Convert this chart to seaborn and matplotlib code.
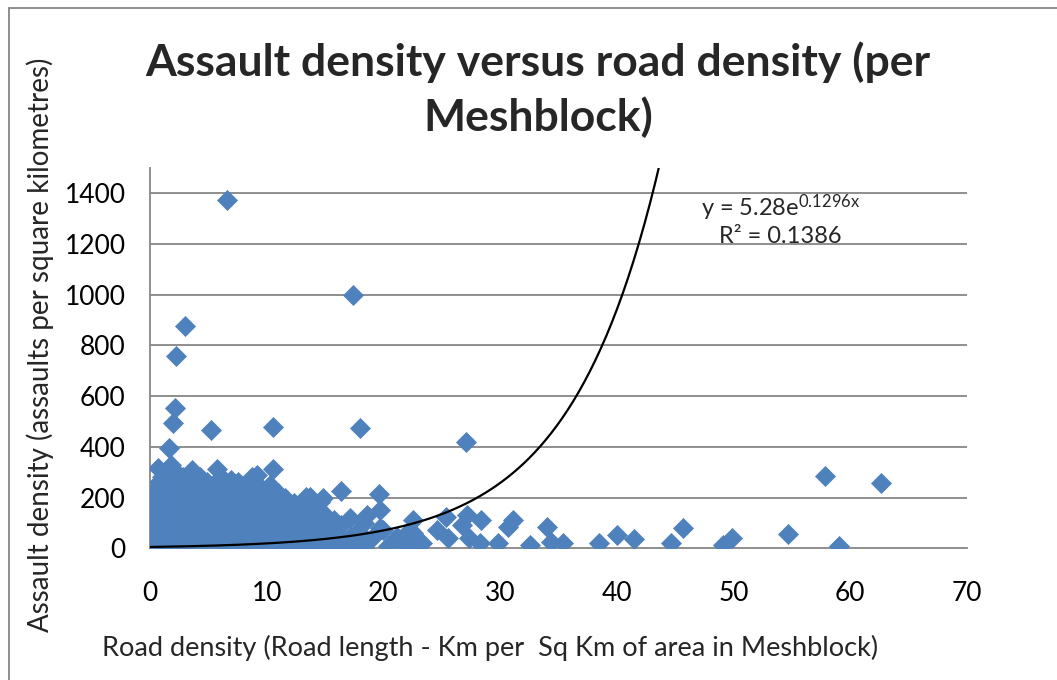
import numpy as np
import pandas as pd
import matplotlib
matplotlib.use("Agg")
import matplotlib.pyplot as plt
from matplotlib.lines import Line2D
import seaborn as sns

# Road density (km of road per sq km) for each meshblock
road_density = [
    0.05, 0.05, 0.05, 0.05, 0.05, 0.05,
    0.2, 0.2, 0.2, 0.2, 0.2,
    0.4, 0.4, 0.4, 0.4, 0.4,
    0.6, 0.6, 0.6, 0.6, 0.7,
    0.8, 0.8, 0.8, 0.8, 0.8,
    1.0, 1.0, 1.0, 1.0, 1.0,
    1.2, 1.2, 1.2, 1.2,
    1.4, 1.4, 1.4, 1.4,
    1.6, 1.6, 1.6, 1.6, 1.6,
    1.8, 1.8, 1.8, 1.8,
    2.0, 2.0, 2.0, 2.0, 2.0, 2.1,
    2.2, 2.2, 2.2, 2.2, 2.2,
    2.4, 2.4, 2.4,
    2.6, 2.6, 2.6,
    2.8, 2.8, 2.8, 2.8,
    3.0, 3.0, 3.0,
    3.2, 3.2, 3.2,
    3.4, 3.4, 3.4,
    3.6, 3.6, 3.6, 3.6,
    3.8, 3.8,
    4.0, 4.0, 4.0, 4.0,
    4.3, 4.3, 4.3, 4.3,
    4.6, 4.6, 4.6,
    4.9, 4.9, 4.9, 4.9,
    5.2, 5.2, 5.2, 5.2,
    5.5, 5.5, 5.5, 5.7,
    5.8, 5.8, 5.8,
    6.1, 6.1, 6.1, 6.1,
    6.4, 6.4,
    6.6, 6.6, 6.6,
    6.9, 6.9, 6.9, 6.9,
    7.2, 7.2,
    7.5, 7.5, 7.5, 7.5,
    7.8, 7.8, 7.8,
    8.1, 8.1, 8.1, 8.1,
    8.4, 8.4, 8.4,
    8.7, 8.7, 8.7,
    9.0, 9.0, 9.0, 9.2,
    9.4, 9.4, 9.4,
    9.7, 9.7,
    10.0, 10.0, 10.0,
    10.3, 10.3, 10.3,
    10.5, 10.5,
    10.7, 10.7, 10.7,
    11.0, 11.0,
    11.3, 11.3, 11.3,
    11.6, 11.6,
    12.0, 12.0,
    12.3, 12.3,
    12.6, 12.6,
    13.0, 13.0,
    13.4, 13.4, 13.4,
    13.7, 13.7,
    14.0, 14.0,
    14.3, 14.3,
    14.6, 14.6, 14.6, 14.8,
    15.0, 15.0, 15.4,
    15.8, 15.8, 16.1,
    16.4, 16.4, 16.4, 16.8,
    17.1, 17.1, 17.4, 17.4, 17.8, 18.0,
    18.3, 18.3, 18.6, 18.6, 19.0,
    19.6, 19.7, 19.7, 20.0, 20.4,
    21.2, 21.7, 22.3, 22.5, 22.5, 23.0, 23.3,
    24.6, 25.4, 25.5, 26.7, 27.1, 27.2, 27.3,
    28.3, 28.4, 29.8, 30.7, 31.1, 32.6,
    34.0, 34.4, 35.4, 38.5, 40.0, 41.5,
    44.6, 45.7, 49.1, 49.9, 54.7, 57.8, 59.0, 62.6,
]

# Assaults per square kilometre for the same meshblocks
assault_density = [
    0, 15, 40, 70, 110, 150,
    5, 30, 90, 130, 190,
    0, 55, 120, 170, 230,
    10, 80, 150, 210, 317,
    0, 45, 100, 180, 260,
    20, 70, 140, 230, 280,
    0, 110, 200, 250,
    35, 90, 160, 300,
    5, 60, 130, 220, 396,
    25, 180, 260, 330,
    0, 90, 150, 230, 496, 555,
    760, 40, 120, 200, 300,
    10, 70, 260,
    30, 140, 210,
    0, 100, 180, 280,
    875, 50, 240,
    15, 130, 200,
    80, 160, 270,
    0, 309, 40, 220,
    110, 190,
    20, 60, 150, 250,
    0, 90, 200, 280,
    30, 130, 230,
    10, 70, 170, 260,
    467, 0, 110, 210,
    40, 150, 240, 313,
    10, 90, 190,
    50, 130, 230, 280,
    0, 170,
    1372, 80, 250,
    270, 20, 120, 200,
    60, 160,
    0, 100, 230, 260,
    30, 140, 200,
    10, 80, 180, 240,
    50, 120, 220,
    0, 160, 280,
    30, 90, 200, 290,
    10, 130, 240,
    60, 170,
    0, 100, 210,
    40, 150, 250,
    478, 313,
    10, 80, 190,
    120, 220,
    0, 50, 160,
    90, 200,
    20, 140,
    60, 180,
    0, 110,
    40, 150,
    202, 80, 10,
    203, 120,
    30, 60,
    100, 160,
    183, 0, 50, 199,
    20, 130, 80,
    10, 110, 50,
    226, 0, 90, 30,
    45, 120, 1000, 10, 70, 475,
    0, 100, 132, 30, 40,
    214, 151, 80, 72, 10,
    45, 20, 72, 112, 60, 5, 21,
    72, 124, 40, 92, 420, 131, 40,
    21, 112, 21, 85, 112, 13,
    85, 25, 21, 22, 52, 37,
    21, 81, 13, 40, 55, 285, 9, 259,
]

# Fitted exponential trend: y = a * exp(b * x)
trend_a = 5.28
trend_b = 0.1296
trend_r2 = 0.1386

x_ticks = [0, 10, 20, 30, 40, 50, 60, 70]
y_ticks = [0, 200, 400, 600, 800, 1000, 1200, 1400]

title_text = "Assault density versus road density (per\nMeshblock)"
x_label = "Road density (Road length - Km per  Sq Km of area in Meshblock)"
y_label = "Assault density (assaults per square kilometres)"

sns.set_style("white")
plt.rcParams["font.family"] = ["Lato", "DejaVu Sans"]
plt.rcParams["mathtext.fontset"] = "custom"
plt.rcParams["mathtext.rm"] = "Lato"
plt.rcParams["mathtext.it"] = "Lato"
plt.rcParams["mathtext.bf"] = "Lato:bold"

grid_grey = "#868686"
marker_blue = "#4F81BD"

W, H = 1057, 680
fig = plt.figure(figsize=(W / 100, H / 100), dpi=100)
ax = fig.add_axes([150 / W, 1 - 548.3 / H, (967 - 150) / W, (548.3 - 168) / H])

df = pd.DataFrame({"road": road_density, "assault": assault_density})
sns.scatterplot(data=df, x="road", y="assault", marker="D", s=115,
                color=marker_blue, edgecolor=marker_blue, linewidth=0,
                ax=ax, zorder=3, legend=False)

# Exponential trendline across the data range
xt = np.linspace(min(road_density), max(road_density), 400)
ax.plot(xt, trend_a * np.exp(trend_b * xt), color="black", lw=1.6, zorder=4)

ax.set_xlim(0, 70)
ax.set_ylim(0, 1500)
ax.set_xticks(x_ticks)
ax.set_yticks(y_ticks)
ax.set_xticklabels([str(t) for t in x_ticks])
ax.set_yticklabels([str(t) for t in y_ticks])
ax.tick_params(axis="both", labelsize=19, labelcolor="black", length=5.5,
               width=1.3, direction="out", color=grid_grey)
ax.tick_params(axis="x", pad=18)
ax.tick_params(axis="y", pad=12)
ax.set_xlabel("")
ax.set_ylabel("")

for y in y_ticks[1:]:
    ax.axhline(y, color=grid_grey, lw=1.3, zorder=1)

for side in ["top", "right"]:
    ax.spines[side].set_visible(False)
for side in ["left", "bottom"]:
    ax.spines[side].set_color(grid_grey)
    ax.spines[side].set_linewidth(1.3)

# Trendline equation and fit quality
ax.text(54, 1342, r"y = 5.28e$^{\mathrm{0.1296x}}$", ha="center", va="center",
        fontsize=17)
ax.text(54, 1228, "R² = 0.1386", ha="center", va="center", fontsize=17)

fig.text(538 / W, 1 - 90 / H, title_text, ha="center", va="center",
         fontsize=32, fontweight="bold", linespacing=1.38)
fig.text(490 / W, 1 - 648 / H, x_label, ha="center", va="center", fontsize=19.5)
fig.text(40 / W, 1 - 345 / H, y_label, ha="center", va="center",
         fontsize=20, rotation=90)

# Chart-area border (top and left edges)
fig.add_artist(Line2D([9 / W, 1.0], [1 - 7.5 / H, 1 - 7.5 / H],
                      transform=fig.transFigure, color=grid_grey, lw=1.3))
fig.add_artist(Line2D([9 / W, 9 / W], [0.0, 1 - 7.5 / H],
                      transform=fig.transFigure, color=grid_grey, lw=1.3))

fig.savefig("out.png", dpi=100, facecolor="white")
